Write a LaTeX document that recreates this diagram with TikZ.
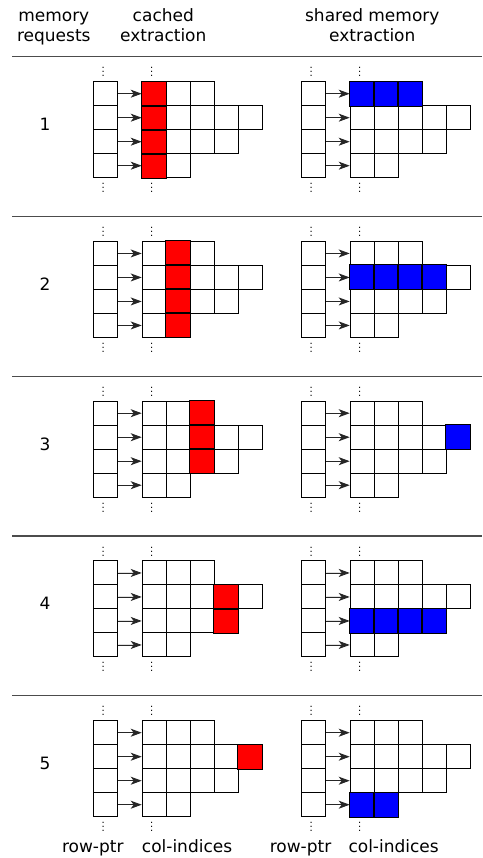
\documentclass[tikz,border=0pt]{standalone}
\usepackage{fontspec}
\setmainfont{DejaVu Sans}
\usetikzlibrary{arrows.meta}
\begin{document}
\begin{tikzpicture}[x=1pt,y=-1pt,
  every node/.style={font=\fontsize{17}{20}\selectfont},
  cell/.style={draw=black,line width=1pt,minimum size=24pt,inner sep=0pt,fill=white},
  arr/.style={-{Stealth[length=11pt,width=8pt,inset=3pt]},line width=0.9pt,draw=black!85,fill=black},
  vdot/.style={inner sep=0pt,anchor=south,font=\fontsize{10}{12}\selectfont},
  sep/.style={draw=black!70,line width=1.4pt},
  hlred/.style={fill=red},
  hlblue/.style={fill=blue},
  hlline/.style={draw=black,line width=1pt},
  lbl/.style={anchor=base,inner sep=0pt}]
\useasboundingbox (0,0) rectangle (482,858);
% headers
\node[lbl] (h1a) at (53.8,21.7) {memory};
\node[lbl] (h1b) at (53.8,42) {requests};
\node[lbl] (h2a) at (163.3,21.7) {cached};
\node[lbl] (h2b) at (163.3,42) {extraction};
\node[lbl] (h3a) at (372.3,21.7) {shared memory};
\node[lbl] (h3b) at (372.3,42) {extraction};
% separators
\foreach \k in {1,...,5} {
  \pgfmathsetmacro\ly{56.7+159.75*(\k-1)}
  \draw[sep] (12,\ly) -- (482,\ly);
}
% panels
\foreach \k in {1,...,5} {
  \pgfmathsetmacro\ty{81.7+159.75*(\k-1)}
  \node[lbl] (num\k) at (45,{\ty+49}) {\k};
  \foreach \side/\x in {L/93.8,R/301.8} {
    \foreach \r in {0,...,3} {
      \node[cell] (p\k\side-r\r) at ({\x+12},{\ty+12+24*\r}) {};
    }
    \foreach \r/\n in {0/3,1/5,2/4,3/2} {
      \foreach \c in {1,...,\n} {
        \node[cell] (p\k\side-c\r-\c) at ({\x+48.4+12+24*(\c-1)},{\ty+12+24*\r}) {};
      }
      \draw[arr] (p\k\side-r\r.east) -- (p\k\side-c\r-1.west);
    }
    \node[vdot] (p\k\side-dra) at ({\x+9.5},{\ty-4.7}) {$\vdots$};
    \node[vdot] (p\k\side-drb) at ({\x+9.5},{\ty+111}) {$\vdots$};
    \node[vdot] (p\k\side-dca) at ({\x+57.9},{\ty-4.7}) {$\vdots$};
    \node[vdot] (p\k\side-dcb) at ({\x+57.9},{\ty+111}) {$\vdots$};
  }
}
% cached extraction highlights
\foreach \k/\cl in {1/{0-1,1-1,2-1,3-1},2/{0-2,1-2,2-2,3-2},3/{0-3,1-3,2-3},4/{1-4,2-4},5/{1-5}} {
  \foreach \c in \cl {
    \fill[hlred] (p\k L-c\c.north west) rectangle (p\k L-c\c.south east);
  }
  \foreach \c in \cl {
    \draw[hlline] (p\k L-c\c.north west) rectangle (p\k L-c\c.south east);
  }
}
% shared memory extraction highlights
\foreach \k/\cl in {1/{0-1,0-2,0-3},2/{1-1,1-2,1-3,1-4},3/{1-5},4/{2-1,2-2,2-3,2-4},5/{3-1,3-2}} {
  \foreach \c in \cl {
    \fill[hlblue] (p\k R-c\c.north west) rectangle (p\k R-c\c.south east);
  }
  \foreach \c in \cl {
    \draw[hlline] (p\k R-c\c.north west) rectangle (p\k R-c\c.south east);
  }
}
% bottom labels
\node[lbl] (b1) at (92.8,852) {row-ptr};
\node[lbl,anchor=base west] (b2) at (141.7,852) {col-indices};
\node[lbl] (b3) at (300.5,852) {row-ptr};
\node[lbl,anchor=base west] (b4) at (348.3,852) {col-indices};
\end{tikzpicture}
\end{document}
